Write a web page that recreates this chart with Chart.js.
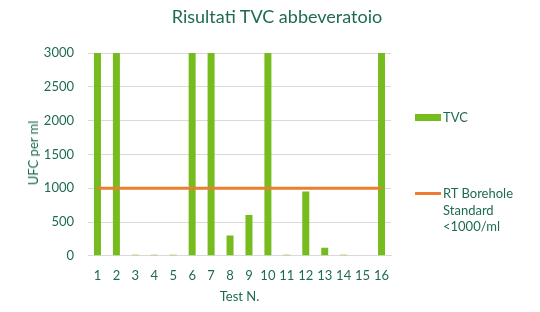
<!DOCTYPE html>
<html><head><meta charset="utf-8">
<script src="https://cdn.jsdelivr.net/npm/chart.js@4"></script>
<style>
html,body{margin:0;padding:0;background:#fff;}
#wrap{position:relative;width:540px;height:312px;}
.lg{position:absolute;font-family:Lato,"Liberation Sans",sans-serif;font-size:13px;color:#1e6b52;line-height:16.5px;}
.sw{position:absolute;}
#title{position:absolute;left:0;width:554px;top:5px;text-align:center;font-family:Lato,"Liberation Sans",sans-serif;font-size:18px;color:#1e6b52;}
#ytitle{position:absolute;left:33px;top:153px;transform:translate(-50%,-50%) rotate(-90deg);white-space:nowrap;font-family:Lato,"Liberation Sans",sans-serif;font-size:13px;color:#1e6b52;}
</style></head>
<body><div id="wrap"><canvas id="c" width="540" height="312"></canvas>
<div id="title">Risultati TVC abbeveratoio</div>
<div id="ytitle">UFC per ml</div>
<div class="sw" style="left:415px;top:114px;width:26px;height:7px;background:#77bc1f"></div>
<div class="lg" style="left:443px;top:109px;">TVC</div>
<div class="sw" style="left:415px;top:192px;width:26px;height:3px;background:#ed7d31"></div>
<div class="lg" style="left:443px;top:185px;">RT Borehole<br>Standard<br>&lt;1000/ml</div>
</div>
<script>
const categories = ["1","2","3","4","5","6","7","8","9","10","11","12","13","14","15","16"];
const tvc = [3000,3000,15,15,15,3000,3000,300,605,3000,15,950,120,15,0,3000];
const standard = [1000,1000,1000,1000,1000,1000,1000,1000,1000,1000,1000,1000,1000,1000,1000,1000];
const yTicks = [0,500,1000,1500,2000,2500,3000];
const textColor = '#1e6b52';
const font = {family:'Lato, "Liberation Sans", sans-serif', size:13};
new Chart(document.getElementById('c'), {
  data: {
    labels: categories,
    datasets: [
      {type:'line', label:'RT Borehole Standard <1000/ml', data:standard, borderColor:'#ed7d31', borderWidth:3, pointRadius:0, order:0},
      {type:'bar', label:'TVC', data:tvc, backgroundColor:'#77bc1f', barPercentage:0.37, categoryPercentage:1.0, order:1}
    ]
  },
  options: {
    responsive:false, animation:false,
    layout:{padding:{left:32, right:149, top:53, bottom:7}},
    plugins:{ legend:{display:false}, tooltip:{enabled:false}, title:{display:false} },
    scales:{
      x:{grid:{display:false}, border:{color:'#d9d9d9'},
         ticks:{color:textColor, font:font, padding:4, autoSkip:false, maxRotation:0, minRotation:0},
         title:{display:true, text:'Test N.', color:textColor, font:font, padding:{top:2,bottom:0}}},
      y:{min:0, max:3000, afterBuildTicks:(ax)=>{ax.ticks = yTicks.map(v=>({value:v}));},
         afterFit:(s)=>{s.width = 56;},
         grid:{color:'#d9d9d9', drawTicks:false}, border:{display:false},
         ticks:{color:textColor, font:font, padding:14, callback:(v)=>String(v)},
         title:{display:false}}
    }
  }
});
</script></body></html>
